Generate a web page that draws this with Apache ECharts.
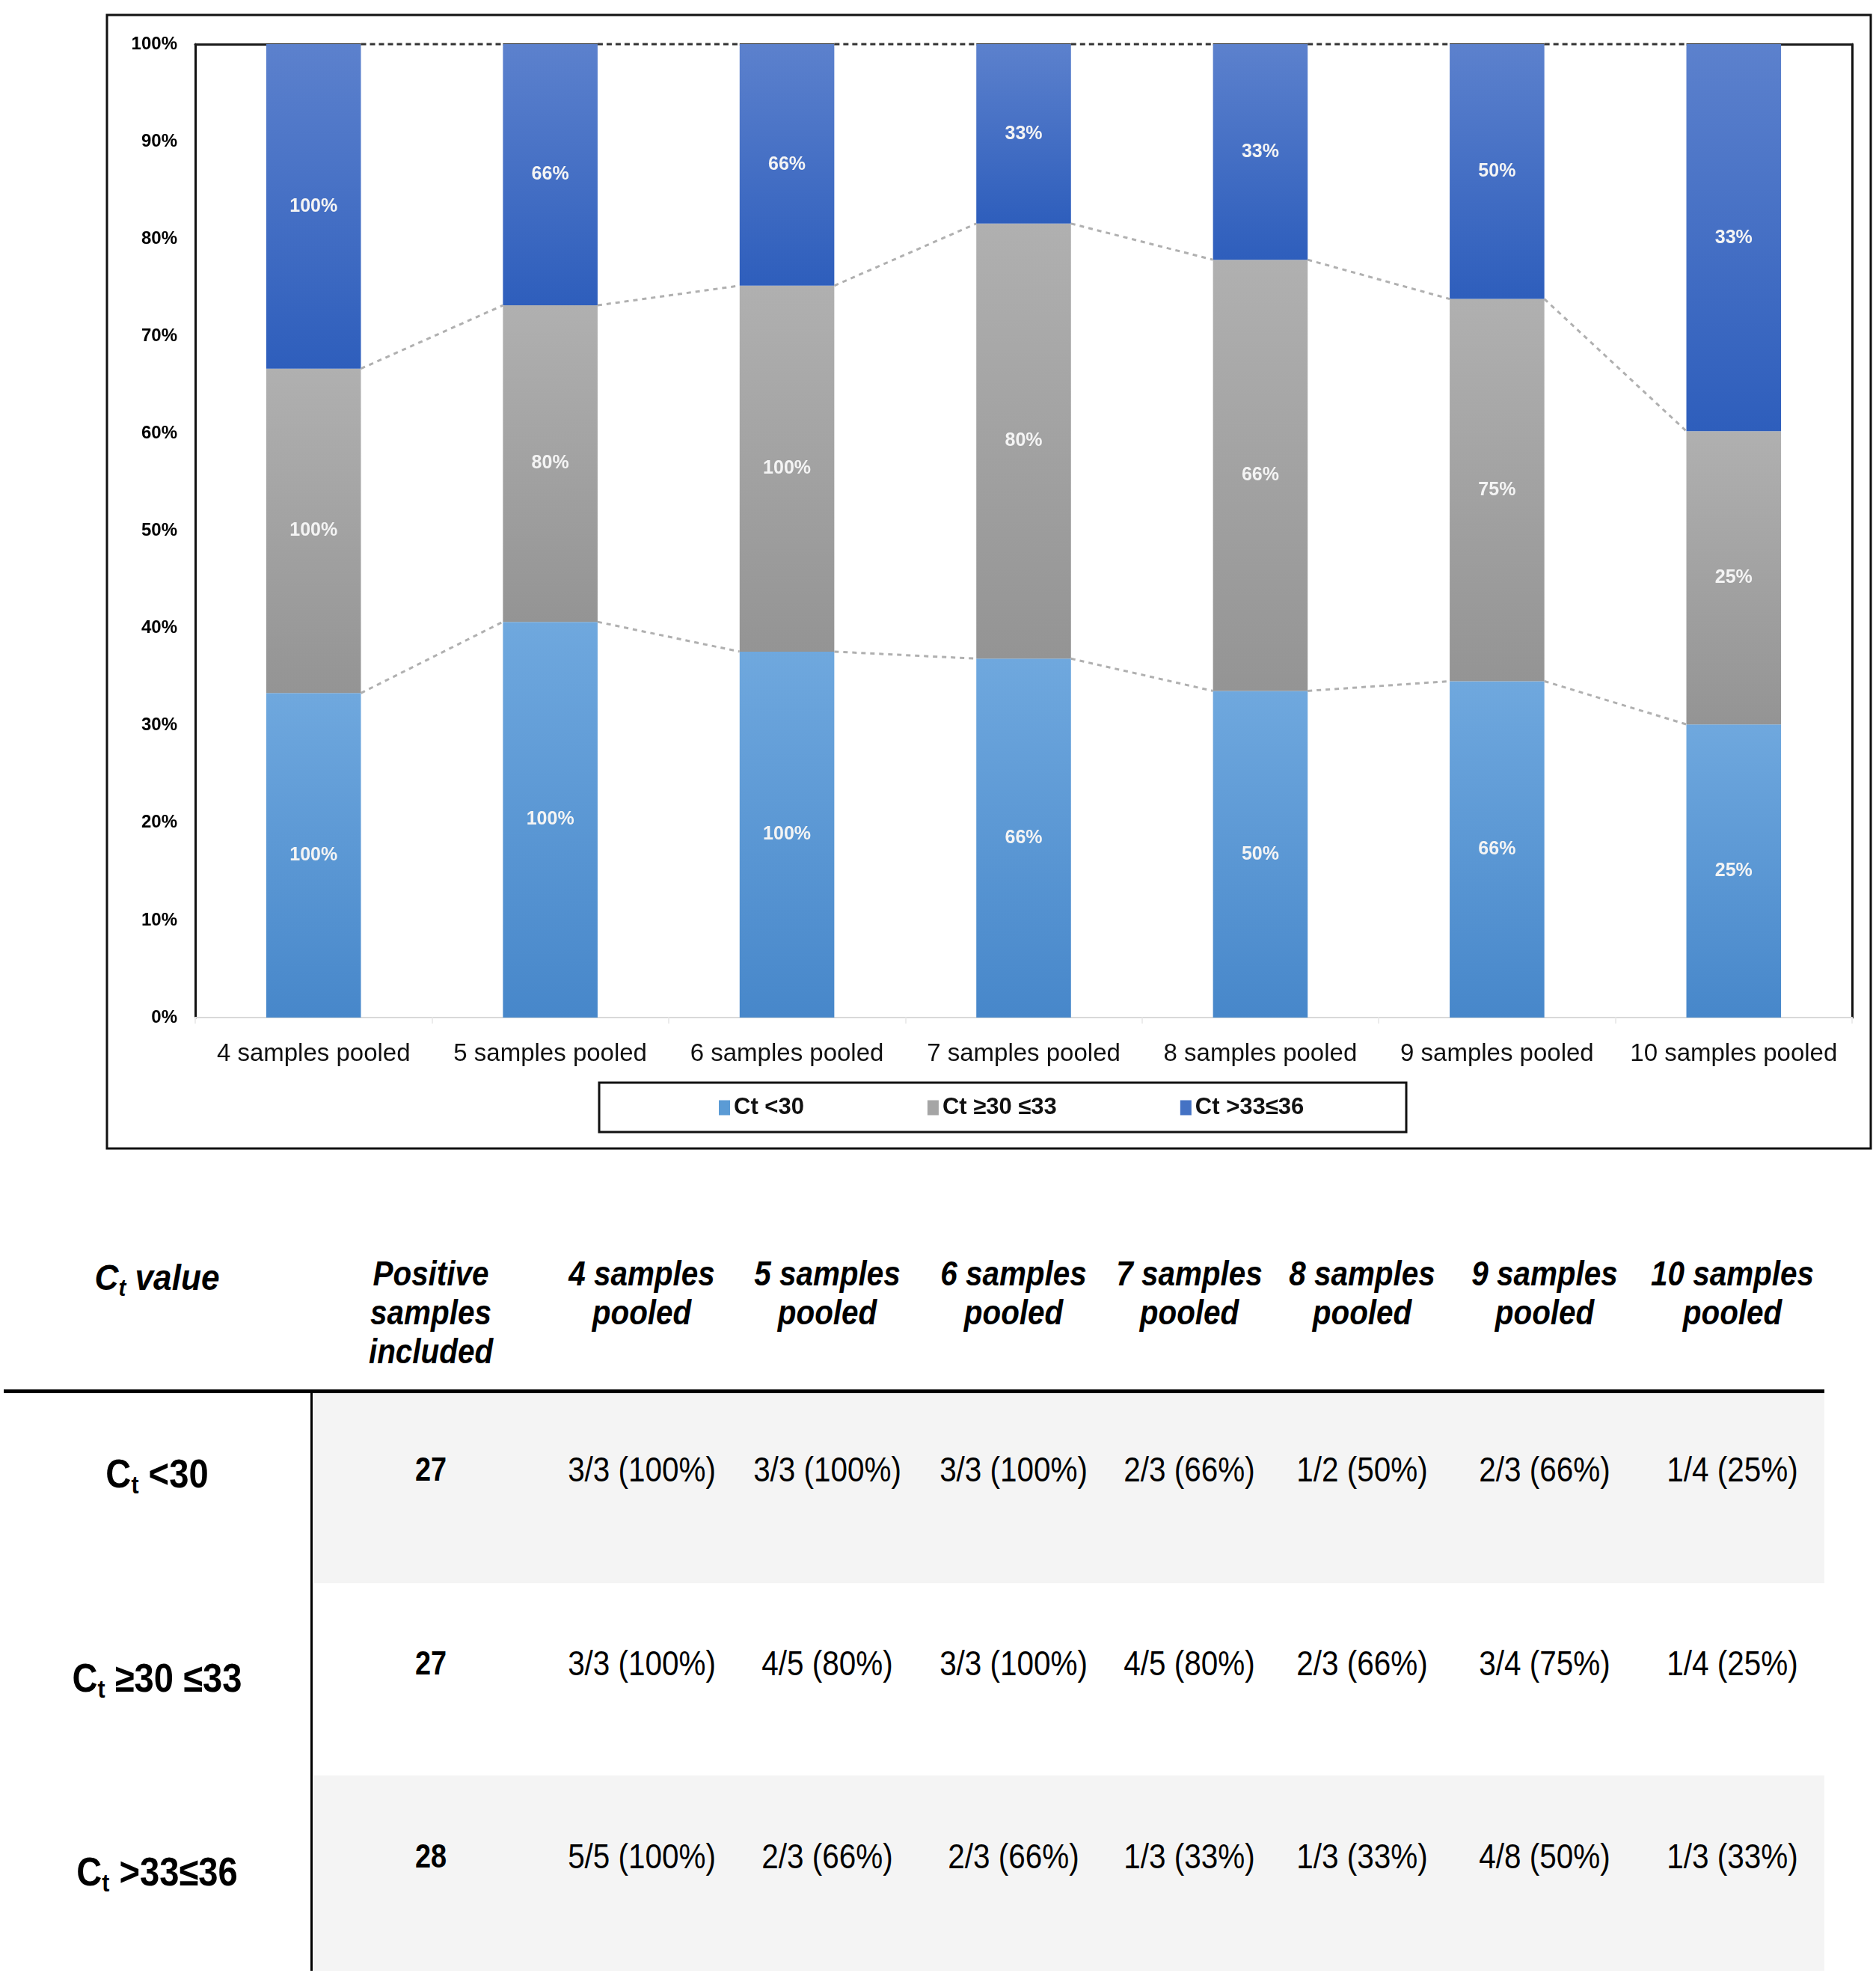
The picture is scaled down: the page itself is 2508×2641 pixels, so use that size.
<!DOCTYPE html>
<html>
<head>
<meta charset="utf-8">
<script src="https://cdn.jsdelivr.net/npm/echarts@6/dist/echarts.min.js"></script>
<style>
html,body{margin:0;padding:0;background:#fff;width:2508px;height:2641px;overflow:hidden;position:relative;}
#chart{position:absolute;left:0;top:0;width:2508px;height:1560px;}
.t{position:absolute;transform:translate(-50%,-50%) scaleX(0.86);text-align:center;white-space:nowrap;color:#000;
   font-family:"Liberation Sans Narrow","Arial Narrow","Liberation Sans",Arial,sans-serif;}
.hd{font-weight:bold;font-style:italic;font-size:47px;line-height:52px;}
.hd.ct{transform:translate(-50%,-50%) scaleX(0.92);font-size:48px;}
.cell{font-size:47px;line-height:52px;}
.pos{font-size:44px;font-weight:bold;line-height:52px;}
.rl{font-size:53px;font-weight:bold;line-height:60px;transform:translate(-50%,-50%) scaleX(0.89);}
.rl sub{font-size:34px;vertical-align:-8px;line-height:0;}
.hd sub{font-size:32px;vertical-align:-8px;line-height:0;}
.bar{position:absolute;background:#000;}
.band{position:absolute;background:#f4f4f4;}
</style>
</head>
<body>
<div id="chart"></div>
<script>
// ---------------- data ----------------
const categories = ['4 samples pooled','5 samples pooled','6 samples pooled','7 samples pooled','8 samples pooled','9 samples pooled','10 samples pooled'];
const legendNames = ['Ct <30','Ct \u226530 \u226433','Ct >33\u226436'];
const ctBelow30 = [100,100,100,66,50,66,25];
const ct30to33  = [100,80,100,80,66,75,25];
const ct33to36  = [100,66,66,33,33,50,33];

const tableHeaderCt = 'value';
const tableHeaderPositive = ['Positive','samples','included'];
const tableColHeaders = [['4 samples','pooled'],['5 samples','pooled'],['6 samples','pooled'],['7 samples','pooled'],['8 samples','pooled'],['9 samples','pooled'],['10 samples','pooled']];
const rowLabelSuffix = ['<30','\u226530 \u226433','>33\u226436'];
const positiveIncluded = [27,27,28];
const fracBelow30 = ['3/3','3/3','3/3','2/3','1/2','2/3','1/4'];
const frac30to33  = ['3/3','4/5','3/3','4/5','2/3','3/4','1/4'];
const frac33to36  = ['5/5','2/3','2/3','1/3','1/3','4/8','1/3'];

// ---------------- chart ----------------
const raw = [ctBelow30, ct30to33, ct33to36];
const totals = categories.map((_, i) => raw.reduce((s, a) => s + a[i], 0));
const share = raw.map(a => a.map((v, i) => v / totals[i] * 100));
const b1 = share[0];
const b2 = share[0].map((v, i) => v + share[1][i]);
const b3 = categories.map(() => 100);

const NARROW = '"Liberation Sans Narrow","Arial Narrow","Liberation Sans",Arial,sans-serif';
const G = echarts.graphic.LinearGradient;
const fills = [
  new G(0,0,0,1,[{offset:0,color:'#6fa8de'},{offset:1,color:'#4787ca'}]),
  new G(0,0,0,1,[{offset:0,color:'#b0b0b0'},{offset:1,color:'#949494'}]),
  new G(0,0,0,1,[{offset:0,color:'#5c81cd'},{offset:1,color:'#2e5ebc'}])
];
const legendColors = ['#5b9bd5','#a5a5a5','#4472c4'];

function connector(bound, color, width, dash, maskWhite) {
  const data = categories.slice(0, -1).map((_, i) => [i, bound[i], bound[i + 1]]);
  return {
    type: 'custom', silent: true, z: 6, data: data,
    encode: {x: 0, y: [1, 2]},
    renderItem: (params, api) => {
      const i = api.value(0);
      const bw = api.size([1, 0])[0] * 0.4;
      const p1 = api.coord([i, api.value(1)]);
      const p2 = api.coord([i + 1, api.value(2)]);
      const shape = {x1: p1[0] + bw / 2, y1: p1[1], x2: p2[0] - bw / 2, y2: p2[1]};
      const children = [];
      if (maskWhite) children.push({type: 'line', shape: shape, style: {stroke: '#fff', lineWidth: width + 2}});
      children.push({type: 'line', shape: shape, style: {stroke: color, lineWidth: width, lineDash: dash}});
      return {type: 'group', children: children};
    }
  };
}

const barSeries = raw.map((arr, k) => ({
  name: legendNames[k], type: 'bar', stack: 'total', barWidth: '40%',
  data: share[k],
  itemStyle: {color: fills[k]},
  label: {show: true, position: 'inside', color: '#f4f4f4', fontFamily: NARROW, fontWeight: 'bold', fontSize: 25,
          formatter: p => arr[p.dataIndex] + '%'}
}));

const chart = echarts.init(document.getElementById('chart'), null, {renderer: 'canvas'});
chart.setOption({
  animation: false,
  backgroundColor: '#fff',
  grid: {left: 261, right: 32, top: 59, bottom: 200, containLabel: false, outerBoundsMode: 'none'},
  legend: {
    left: 961, top: 1465, itemWidth: 15, itemHeight: 20, itemGap: 165, padding: 0, icon: 'rect',
    textStyle: {fontFamily: NARROW, fontWeight: 'bold', fontSize: 31, color: '#111', padding: [0, 0, 0, 0]},
    data: legendNames.map((n, k) => ({name: n, itemStyle: {color: legendColors[k]}}))
  },
  xAxis: [{
    type: 'category', data: categories, boundaryGap: true, position: 'bottom',
    axisLine: {onZero: false, lineStyle: {color: '#d9d9d9', width: 2}},
    axisTick: {show: true, length: 8, lineStyle: {color: '#ececec', width: 2}},
    axisLabel: {margin: 32, fontFamily: '"Liberation Sans",Arial,sans-serif', fontSize: 33, color: '#111', interval: 0}
  }, {
    type: 'category', data: categories, boundaryGap: true, position: 'top',
    axisLine: {show: true, onZero: false, lineStyle: {color: '#1a1a1a', width: 3}},
    axisTick: {show: false}, axisLabel: {show: false}, splitLine: {show: false}
  }],
  yAxis: [{
    type: 'value', min: 0, max: 100, interval: 10,
    axisLine: {show: true, onZero: false, lineStyle: {color: '#111', width: 3}},
    axisTick: {show: false}, splitLine: {show: false},
    axisLabel: {margin: 24, formatter: '{value}%', fontFamily: NARROW, fontWeight: 'bold', fontSize: 24, color: '#000'}
  }, {
    type: 'value', min: 0, max: 100, interval: 10, position: 'right',
    axisLine: {show: true, onZero: false, lineStyle: {color: '#111', width: 3}},
    axisTick: {show: false}, splitLine: {show: false}, axisLabel: {show: false}
  }],
  graphic: [
    {type: 'rect', shape: {x: 143, y: 20, width: 2358, height: 1515}, style: {fill: 'none', stroke: '#111', lineWidth: 3}, z: 100},
    {type: 'rect', shape: {x: 801, y: 1447, width: 1079, height: 66}, style: {fill: 'none', stroke: '#111', lineWidth: 3}, z: 100}
  ],
  series: [
    ...barSeries,
    connector(b1, '#b0b0b0', 3, [6, 6], false),
    connector(b2, '#b0b0b0', 3, [6, 6], false),
    connector(b3, '#333', 3, [7, 5], true)
  ]
});

// ---------------- table ----------------
function addDiv(cls, x, y, html) {
  const d = document.createElement('div');
  d.className = 't ' + cls;
  d.style.left = x + 'px';
  d.style.top = y + 'px';
  d.innerHTML = html;
  document.body.appendChild(d);
}
function addBox(cls, x, y, w, h) {
  const d = document.createElement('div');
  d.className = cls;
  d.style.left = x + 'px'; d.style.top = y + 'px';
  d.style.width = w + 'px'; d.style.height = h + 'px';
  document.body.appendChild(d);
}
addBox('band', 419, 1862, 2020, 254);
addBox('band', 419, 2373, 2020, 261);
addBox('bar', 5, 1857, 2434, 5);
addBox('bar', 415, 1860, 3, 774);

const colX = [858, 1106, 1355, 1590, 1821, 2065, 2316];
addDiv('hd ct', 210, 1708, 'C<sub>t</sub> ' + tableHeaderCt);
addDiv('hd', 576, 1754, tableHeaderPositive.join('<br>'));
tableColHeaders.forEach((h, i) => addDiv('hd', colX[i], 1728, h.join('<br>')));

const rowsY = [1964, 2223, 2481];
const rowLblY = [1970, 2243, 2502];
const fracRows = [fracBelow30, frac30to33, frac33to36];
fracRows.forEach((fr, r) => {
  addDiv('rl', 210, rowLblY[r], 'C<sub>t</sub> ' + rowLabelSuffix[r].replace('<', '&lt;').replace('>', '&gt;'));
  addDiv('pos', 576, rowsY[r], String(positiveIncluded[r]));
  fr.forEach((f, i) => addDiv('cell', colX[i], rowsY[r], f + ' (' + raw[r][i] + '%)'));
});
</script>
</body>
</html>
